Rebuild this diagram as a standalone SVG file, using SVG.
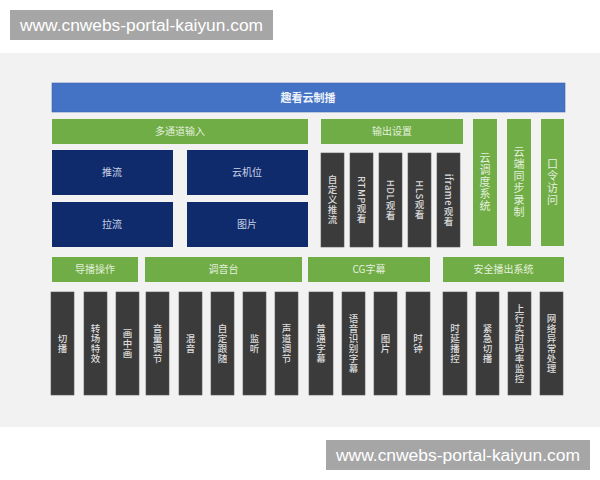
<svg xmlns="http://www.w3.org/2000/svg" width="600" height="480" viewBox="0 0 600 480">
<style>
text { font-family: "Noto Sans CJK SC", "Liberation Sans", sans-serif; }
.wm rect { fill: #a6a6a6; }
.wm text { fill: #ffffff; font-family: "Liberation Sans", "DejaVu Sans", sans-serif; font-size: 16px; }
.blue { fill: #4472c4; stroke: #3a64b0; stroke-width: 0.6; }
.green { fill: #70ad47; }
.navy { fill: #0f2b6b; }
.dark { fill: #3b3b3b; stroke: #555555; stroke-width: 0.6; }
.tg { fill: #e4f0dc; font-size: 10px; text-anchor: middle; }
.tb { fill: #eef2fa; font-size: 11px; text-anchor: middle; font-weight: bold; }
.tn { fill: #c9d2e6; font-size: 10px; text-anchor: middle; }
.vd { fill: #dcdcdc; font-size: 9.5px; text-anchor: middle; writing-mode: vertical-rl; letter-spacing: 0.5px; font-weight: 500; }
.vg { fill: #e4f0dc; font-size: 11px; text-anchor: middle; writing-mode: vertical-rl; letter-spacing: 1px; }
</style>
<rect x="0" y="0" width="600" height="480" fill="#ffffff"/>
<rect x="0" y="53" width="600" height="374" fill="#f2f2f2"/>

<g id="watermark-top" class="wm">
<rect x="10" y="10" width="263" height="30"/>
<text x="20" y="31" textLength="243" lengthAdjust="spacingAndGlyphs">www.cnwebs-portal-kaiyun.com</text>
</g>
<g id="watermark-bottom" class="wm">
<rect x="326" y="440" width="264" height="30"/>
<text x="336" y="461" textLength="244" lengthAdjust="spacingAndGlyphs">www.cnwebs-portal-kaiyun.com</text>
</g>

<g id="connectors"></g>

<g id="banner"><rect class="blue" x="52" y="83" width="513" height="29"/><text class="tb" x="308" y="101.5">趣看云制播</text></g>

<g id="multi-input"><rect class="green" x="52" y="119" width="256" height="25"/><text class="tg" x="180" y="135">多通道输入</text></g>
<g id="output-settings"><rect class="green" x="321" y="119" width="142" height="25"/><text class="tg" x="392" y="135">输出设置</text></g>

<g id="push"><rect class="navy" x="52" y="150" width="121" height="45"/><text class="tn" x="112" y="176">推流</text></g>
<g id="cloud-cam"><rect class="navy" x="187" y="150" width="121" height="45"/><text class="tn" x="247" y="176">云机位</text></g>
<g id="pull"><rect class="navy" x="52" y="202" width="121" height="45"/><text class="tn" x="112" y="228">拉流</text></g>
<g id="picture-in"><rect class="navy" x="187" y="202" width="121" height="45"/><text class="tn" x="247" y="228">图片</text></g>

<g id="custom-push"><rect class="dark" x="321" y="153" width="23" height="94"/><text class="vd" x="332.5" y="200">自定义推流</text></g>
<g id="rtmp"><rect class="dark" x="350" y="153" width="23" height="94"/><text class="vd" x="361.5" y="200">RTMP观看</text></g>
<g id="hdl"><rect class="dark" x="379" y="153" width="23" height="94"/><text class="vd" x="390.5" y="200">HDL观看</text></g>
<g id="hls"><rect class="dark" x="408" y="153" width="23" height="94"/><text class="vd" x="419.5" y="200">HLS观看</text></g>
<g id="iframe"><rect class="dark" x="437" y="153" width="23" height="94"/><text class="vd" x="448.5" y="200">iframe观看</text></g>

<g id="cloud-dispatch"><rect class="green" x="473" y="119" width="24" height="127"/><text class="vg" x="485" y="182">云调度系统</text></g>
<g id="cloud-record"><rect class="green" x="507" y="119" width="24" height="127"/><text class="vg" x="519" y="182">云端同步录制</text></g>
<g id="password"><rect class="green" x="541" y="119" width="23" height="127"/><text class="vg" x="552.5" y="182">口令访问</text></g>

<g id="director"><rect class="green" x="52" y="257" width="86" height="25"/><text class="tg" x="95" y="273">导播操作</text></g>
<g id="mixer"><rect class="green" x="145" y="257" width="157" height="25"/><text class="tg" x="223.5" y="273">调音台</text></g>
<g id="cg"><rect class="green" x="308" y="257" width="122" height="25"/><text class="tg" x="369" y="273">CG字幕</text></g>
<g id="safe"><rect class="green" x="443" y="257" width="121" height="25"/><text class="tg" x="503.5" y="273">安全播出系统</text></g>

<g id="cut"><rect class="dark" x="51" y="292" width="23" height="103"/><text class="vd" x="62.5" y="343.5">切播</text></g>
<g id="transition"><rect class="dark" x="84" y="292" width="23" height="103"/><text class="vd" x="95.5" y="343.5">转场特效</text></g>
<g id="pip"><rect class="dark" x="116" y="292" width="23" height="103"/><text class="vd" x="127.5" y="343.5">画中画</text></g>
<g id="volume"><rect class="dark" x="146" y="292" width="23" height="103"/><text class="vd" x="157.5" y="343.5">音量调节</text></g>
<g id="mix"><rect class="dark" x="179" y="292" width="23" height="103"/><text class="vd" x="190.5" y="343.5">混音</text></g>
<g id="follow"><rect class="dark" x="211" y="292" width="23" height="103"/><text class="vd" x="222.5" y="343.5">自定跟随</text></g>
<g id="monitor"><rect class="dark" x="243" y="292" width="23" height="103"/><text class="vd" x="254.5" y="343.5">监听</text></g>
<g id="channel"><rect class="dark" x="275" y="292" width="23" height="103"/><text class="vd" x="286.5" y="343.5">声道调节</text></g>
<g id="subtitle"><rect class="dark" x="309" y="292" width="24" height="103"/><text class="vd" x="321" y="343.5">普通字幕</text></g>
<g id="asr"><rect class="dark" x="342" y="292" width="23" height="103"/><text class="vd" x="353.5" y="343.5">语音识别字幕</text></g>
<g id="cg-picture"><rect class="dark" x="374" y="292" width="23" height="103"/><text class="vd" x="385.5" y="343.5">图片</text></g>
<g id="clock"><rect class="dark" x="406" y="292" width="24" height="103"/><text class="vd" x="418" y="343.5">时钟</text></g>
<g id="delay"><rect class="dark" x="443" y="292" width="24" height="103"/><text class="vd" x="455" y="343.5">时延播控</text></g>
<g id="emergency"><rect class="dark" x="476" y="292" width="23" height="103"/><text class="vd" x="487.5" y="343.5">紧急切播</text></g>
<g id="bitrate"><rect class="dark" x="508" y="292" width="23" height="103"/><text class="vd" x="519.5" y="343.5">上行实时码率监控</text></g>
<g id="network"><rect class="dark" x="540" y="292" width="23" height="103"/><text class="vd" x="551.5" y="343.5">网络异常处理</text></g>
</svg>
